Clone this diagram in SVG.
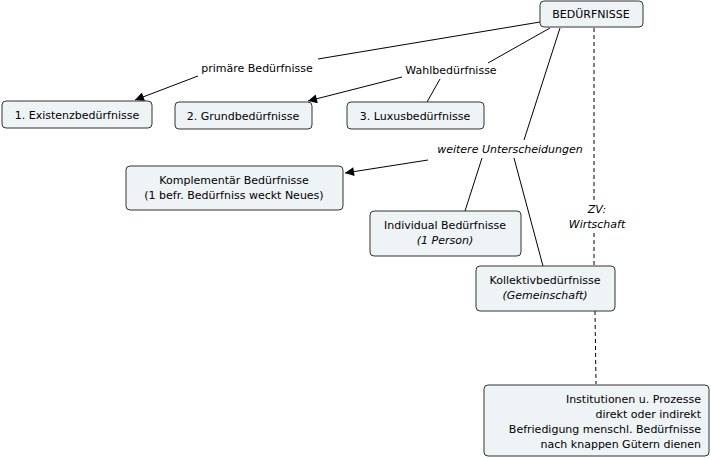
<svg xmlns="http://www.w3.org/2000/svg" width="711" height="459" viewBox="0 0 711 459">
<style>
.n{fill:#eef3f5;stroke:#333;stroke-width:1}
text{font-family:"DejaVu Sans",Verdana,sans-serif;font-size:11px;fill:#000}
.c line{stroke:#000;stroke-width:1}
.i{font-style:italic}
</style>
<defs><marker id="a" viewBox="0 0 10 10" refX="10" refY="5" markerWidth="11" markerHeight="9" orient="auto" markerUnits="userSpaceOnUse"><path d="M0,0L10,5L0,10z" fill="#000"/></marker></defs>
<rect width="711" height="459" fill="#fff"/>
<g class="c">
<line x1="540" y1="22" x2="318" y2="59"/>
<line x1="198" y1="76" x2="135" y2="100" marker-end="url(#a)"/>
<line x1="550" y1="28" x2="488" y2="63"/>
<line x1="402" y1="77" x2="308" y2="101" marker-end="url(#a)"/>
<line x1="440" y1="79" x2="427" y2="102"/>
<line x1="560" y1="28" x2="524" y2="140"/>
<line x1="428" y1="160" x2="345" y2="173" marker-end="url(#a)"/>
<line x1="482" y1="158" x2="465" y2="211"/>
<line x1="514" y1="158" x2="543" y2="266"/>
<line x1="594" y1="28" x2="594" y2="200" stroke-dasharray="4,3"/>
<line x1="594" y1="233" x2="594" y2="266" stroke-dasharray="4,3"/>
<line x1="595" y1="311" x2="596" y2="384" stroke-dasharray="4,3"/>
<text x="257" y="72" text-anchor="middle">primäre Bedürfnisse</text>
<text x="451" y="74" text-anchor="middle">Wahlbedürfnisse</text>
<text x="510" y="153" text-anchor="middle" class="i">weitere Unterscheidungen</text>
<text x="597" y="213" text-anchor="middle" class="i">ZV:</text>
<text x="597" y="228" text-anchor="middle" class="i">Wirtschaft</text>
</g>
<g id="n0"><rect class="n" x="540" y="1" width="103" height="26" rx="4"/><text x="591" y="18" text-anchor="middle">BEDÜRFNISSE</text></g>
<g id="n1"><rect class="n" x="2" y="101" width="150" height="27" rx="4"/><text x="77" y="119" text-anchor="middle">1. Existenzbedürfnisse</text></g>
<g id="n2"><rect class="n" x="175" y="102" width="137" height="27" rx="4"/><text x="243" y="120" text-anchor="middle">2. Grundbedürfnisse</text></g>
<g id="n3"><rect class="n" x="347" y="102" width="137" height="27" rx="4"/><text x="415" y="120" text-anchor="middle">3. Luxusbedürfnisse</text></g>
<g id="n4"><rect class="n" x="126" y="166" width="217" height="44" rx="4"/><text x="234" y="184" text-anchor="middle">Komplementär Bedürfnisse</text><text x="234" y="199" text-anchor="middle">(1 befr. Bedürfniss weckt Neues)</text></g>
<g id="n5"><rect class="n" x="370" y="211" width="151" height="45" rx="4"/><text x="445" y="229" text-anchor="middle">Individual Bedürfnisse</text><text x="445" y="244" text-anchor="middle" class="i">(1 Person)</text></g>
<g id="n6"><rect class="n" x="476" y="266" width="139" height="45" rx="4"/><text x="545" y="284" text-anchor="middle">Kollektivbedürfnisse</text><text x="545" y="299" text-anchor="middle" class="i">(Gemeinschaft)</text></g>
<g id="n7"><rect class="n" x="484" y="385" width="225" height="71" rx="4"/>
<text x="701" y="403" text-anchor="end">Institutionen u. Prozesse</text>
<text x="701" y="418" text-anchor="end">direkt oder indirekt</text>
<text x="701" y="433" text-anchor="end">Befriedigung menschl. Bedürfnisse</text>
<text x="701" y="448" text-anchor="end">nach knappen Gütern dienen</text></g>
</svg>
